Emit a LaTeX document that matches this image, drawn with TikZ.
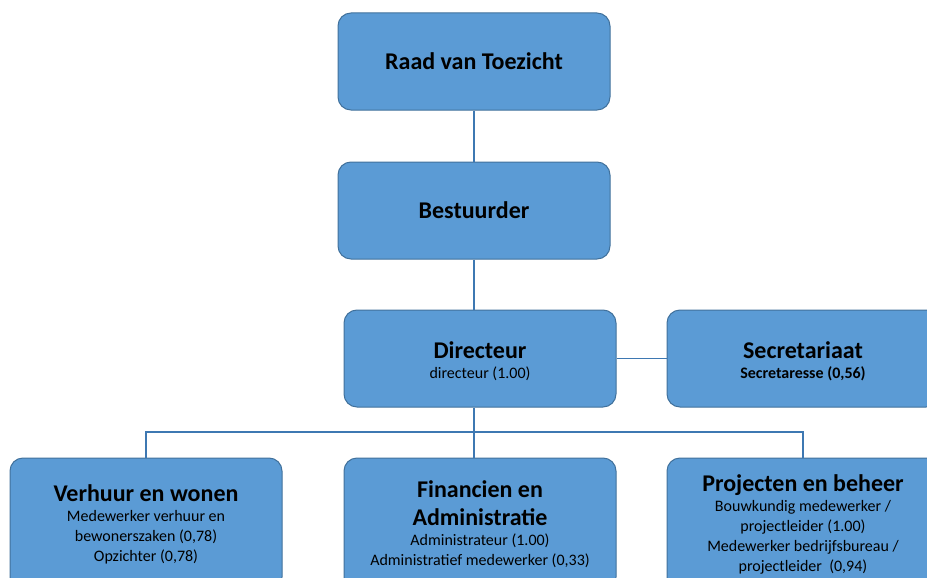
\documentclass[tikz,border=0pt]{standalone}
\usepackage{fontspec}
\setmainfont{Carlito}
\definecolor{boxfill}{HTML}{5B9BD5}
\definecolor{boxline}{HTML}{41719C}
\definecolor{conn}{HTML}{3E78B2}
\newcommand{\ttlA}{\fontsize{24}{29}\selectfont\bfseries}
\newcommand{\smlA}{\fontsize{16}{20}\selectfont}
\begin{document}
\begin{tikzpicture}[x=1pt,y=-1pt,
  box/.style={draw=boxline,fill=boxfill,line width=1pt,rounded corners=13pt,
    minimum width=272pt,minimum height=97pt,align=center,inner sep=0pt,
    font=\smlA,text=black},
  cbox/.style={box,minimum height=132pt},
  lbl/.style={align=center,inner sep=0pt,font=\smlA,text=black},
  link/.style={draw=conn,line width=1.8pt}]
\useasboundingbox (0,0) rectangle (927,578);
\clip (0,0) rectangle (927,578);
\node[box] (raad) at (474,61.5) {\ttlA Raad van Toezicht};
\node[box] (best) at (474,210.5) {\ttlA Bestuurder};
\node[box] (dir) at (480,358.5) {};
\node[lbl] (dirtxt) at (480,361.5) {{\ttlA Directeur}\\[0pt]directeur (1.00)};
\node[box] (sec) at (803,358.5) {};
\node[lbl] (sectxt) at (803,361.5) {{\ttlA Secretariaat}\\[0pt]\bfseries Secretaresse (0,56)};
\node[cbox] (verh) at (146,524) {{\ttlA Verhuur en wonen}\\[0pt]Medewerker verhuur en\\bewonerszaken (0,78)\\Opzichter (0,78)};
\node[cbox] (fin) at (480,524) {{\ttlA Financien en}\\[8pt]{\ttlA Administratie}\\[0pt]Administrateur (1.00)\\Administratief medewerker (0,33)};
\node[cbox] (proj) at (803,524) {{\ttlA Projecten en beheer}\\[0pt]Bouwkundig medewerker /\\projectleider (1.00)\\Medewerker bedrijfsbureau /\\projectleider\ \ (0,94)};
\coordinate (bus) at (474,432);
\draw[link] (raad.south -| 474,0) -- (best.north -| 474,0);
\draw[link] (best.south -| 474,0) -- (dir.north -| 474,0);
\draw[link] (dir.east) -- (sec.west);
\draw[link] (dir.south -| 474,0) -- (bus);
\draw[link] (verh.north) |- (bus) -| (proj.north);
\draw[link] (bus) -- (fin.north -| 474,0);
\end{tikzpicture}
\end{document}
